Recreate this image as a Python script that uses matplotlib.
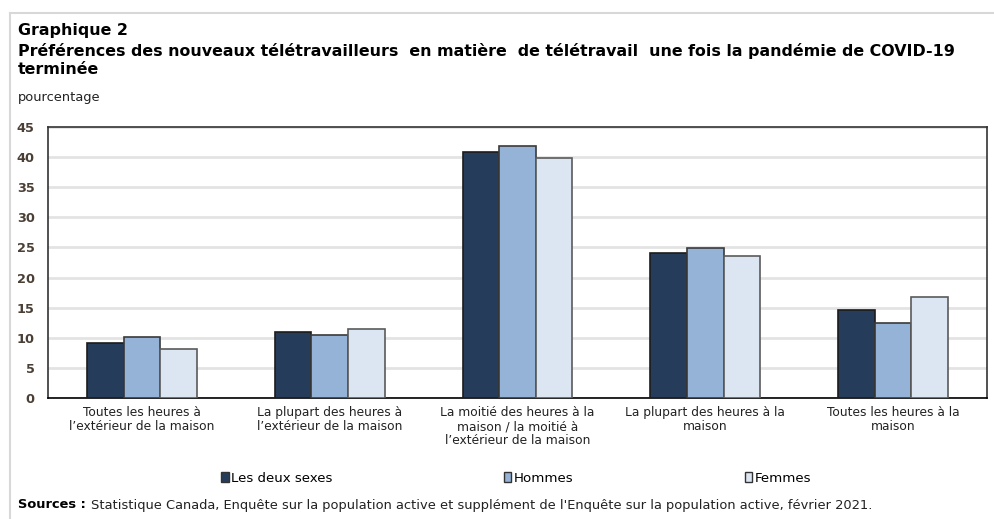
import numpy as np
import matplotlib
matplotlib.use("Agg")
import matplotlib.pyplot as plt
from matplotlib.patches import Patch
from matplotlib.lines import Line2D

categories = [
    "Toutes les heures à\nl’extérieur de la maison",
    "La plupart des heures à\nl’extérieur de la maison",
    "La moitié des heures à la\nmaison / la moitié à\nl’extérieur de la maison",
    "La plupart des heures à la\nmaison",
    "Toutes les heures à la\nmaison",
]
series_names = ["Les deux sexes", "Hommes", "Femmes"]
deux_sexes = [9.1, 11.0, 40.8, 24.1, 14.6]
hommes = [10.1, 10.5, 41.8, 24.9, 12.5]
femmes = [8.2, 11.4, 39.9, 23.5, 16.7]
yticks = [0, 5, 10, 15, 20, 25, 30, 35, 40, 45]

colors = ["#253d5b", "#95b3d7", "#dce6f2"]
edges = ["#1c1c1c", "#3a3a3a", "#5a5a5a"]

plt.rcParams['font.family'] = ['DejaVu Sans']

fig = plt.figure(figsize=(9.95, 5.19), dpi=100)
ax = fig.add_axes([48/995, 121/519, (987-48)/995, (398-127)/519])

x = np.arange(len(categories))
w = 0.195
for i, vals in enumerate([deux_sexes, hommes, femmes]):
    ax.bar(x + (i - 1) * w, vals, width=w, color=colors[i], edgecolor=edges[i],
           linewidth=1.2, zorder=3, label=series_names[i])

ax.set_xlim(-0.5, len(categories) - 0.5)
ax.set_ylim(0, 45)
ax.set_yticks(yticks)
ax.set_yticklabels([str(v) for v in yticks], fontsize=9.3, fontweight='bold', color='#4a3f35')
ax.set_xticks(x)
ax.set_xticklabels(categories, fontsize=8.8, color='#222222', linespacing=1.1)
ax.tick_params(axis='both', length=0, pad=6)
ax.tick_params(axis='y', pad=9.5)
ax.yaxis.grid(True, color='#e3e3e3', linewidth=2, zorder=0)
ax.set_axisbelow(True)
for s in ax.spines.values():
    s.set_color('#333333')
    s.set_linewidth(1.2)
ax.spines['bottom'].set_color('black')

# cadre gris clair
fig.add_artist(Line2D([10/995, 1], [1 - 13/519, 1 - 13/519], color='#d8d8d8', lw=1.5))
fig.add_artist(Line2D([10/995, 10/995], [0, 1 - 13/519], color='#d8d8d8', lw=1.5))

fig.text(18/995, 1 - 30/519, "Graphique 2", fontsize=11.4, fontweight='bold', va='center')
fig.text(18/995, 1 - 51/519,
         "Préférences des nouveaux télétravailleurs  en matière  de télétravail  une fois la pandémie de COVID-19",
         fontsize=11.4, fontweight='bold', va='center')
fig.text(18/995, 1 - 70/519, "terminée", fontsize=11.4, fontweight='bold', va='center')
fig.text(18/995, 1 - 97/519, "pourcentage", fontsize=9.4, va='center', color='#222222')

handles = [Patch(facecolor=colors[i], edgecolor='#333333', linewidth=1) for i in range(3)]
fig.legend(handles, series_names, loc='center', bbox_to_anchor=(516/995, 1 - 478/519),
           ncol=3, frameon=False, fontsize=9.6, handlelength=0.55, handleheight=0.85,
           handletextpad=0.15, columnspacing=12.9)

fig.text(18/995, 1 - 505/519, "Sources :", fontsize=9.4, fontweight='bold', va='center')
fig.text(91/995, 1 - 505/519,
         "Statistique Canada, Enquête sur la population active et supplément de l'Enquête sur la population active, février 2021.",
         fontsize=9.4, va='center', color='#222222')

fig.savefig("out.png", dpi=100)
